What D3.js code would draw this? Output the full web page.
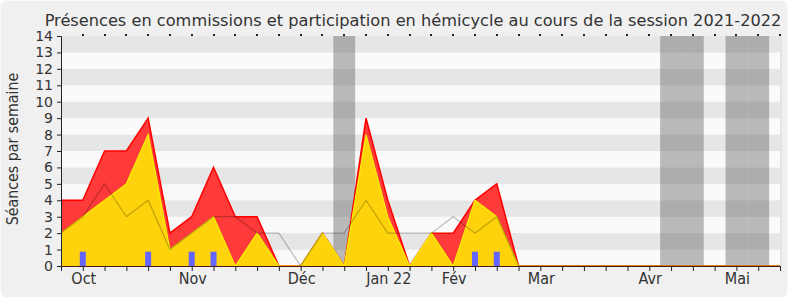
<!DOCTYPE html>
<html>
<head>
<meta charset="utf-8">
<script src="https://cdnjs.cloudflare.com/ajax/libs/d3/7.8.5/d3.min.js"></script>
<title>Présences 2021-2022</title>
<style>
body { margin: 0; background: #ffffff; }
text { font-family: "DejaVu Sans Condensed", "DejaVu Sans", sans-serif; fill: #333333; }
</style>
</head>
<body>
<div id="chart"></div>
<script>
// Weekly values for the session (index 0 = first week shown)
var commissions = [4,4,7,7,9,2,3,6,3,3,0,0,2,0,9,4,0,2,2,4,5,0,0,0,0,0,0,0,0,0,0,0,0,0];
var hemicycle   = [2,3,4,5,8,1,2,3,0,2,0,0,2,0,8,3,0,2,0,4,3,0,0,0,0,0,0,0,0,0,0,0,0,0];
var median      = [2,3,5,3,4,1,2,3,3,2,2,0,2,2,4,2,2,2,3,2,3,0,0,0,0,0,0,0,0,0,0,0,0,0];
var questionWeeks  = [1,4,6,7,19,20];
var questionValues = [0.87,0.87,0.87,0.87,0.87,0.87];
var vacationWeeks  = [13,28,29,31,32];
var monthLabels = ["Oct","Nov","Déc","Jan 22","Fév","Mar","Avr","Mai"];
var monthWeeks  = [1,6,11,15,18,22,27,31];
var yTicks = d3.range(0, 15);

var w = 790, h = 300;
var pLeft = 61, pRight = 780, pTop = 36, pBottom = 266;

var svg = d3.select("#chart").append("svg")
    .attr("width", w)
    .attr("height", h);

// outer frame
svg.append("rect")
    .attr("x", 0.5).attr("y", 0.5)
    .attr("width", w - 3).attr("height", h - 3)
    .attr("rx", 6)
    .attr("fill", "#f0f0f0")
    .attr("stroke", "#fafafa");

var x = d3.scaleLinear().domain([0, commissions.length - 1]).range([pLeft, pRight]);
var y = d3.scaleLinear().domain([0, 14]).range([pBottom, pTop]);

// horizontal stripes
svg.selectAll("rect.stripe")
    .data(d3.range(0, 14))
    .enter()
    .append("rect")
    .attr("class", "stripe")
    .attr("x", pLeft)
    .attr("width", pRight - pLeft)
    .attr("y", function(d) { return y(d + 1); })
    .attr("height", function(d) { return y(d) - y(d + 1); })
    .attr("fill", function(d) { return d % 2 == 1 ? "#e6e6e6" : "#fafafa"; });

svg.append("line")
    .attr("x1", pRight + 1).attr("x2", pRight + 1)
    .attr("y1", pTop).attr("y2", pBottom)
    .attr("stroke", "#d6d6d6");

// holidays
svg.selectAll("rect.vac")
    .data(vacationWeeks)
    .enter()
    .append("rect")
    .attr("class", "vac")
    .attr("x", function(d) { return x(d - 0.5); })
    .attr("width", function(d) { return x(d + 0.5) - x(d - 0.5); })
    .attr("y", pTop)
    .attr("height", pBottom - pTop)
    .attr("fill", "#585858")
    .attr("fill-opacity", 0.4);

var area = function(vals) {
    return d3.area()
        .x(function(d, i) { return x(i); })
        .y0(y(0))
        .y1(function(d) { return y(d); })(vals);
};
var line = function(vals) {
    return d3.line()
        .x(function(d, i) { return x(i); })
        .y(function(d) { return y(d); })(vals);
};

svg.append("path").attr("d", area(commissions)).attr("fill", "#ff3a3a");
svg.append("path").attr("d", line(commissions))
    .attr("fill", "none").attr("stroke", "#ff0000").attr("stroke-width", 1.5);

svg.append("path").attr("d", area(hemicycle)).attr("fill", "#ffd30c");
svg.append("path").attr("d", line(hemicycle))
    .attr("fill", "none").attr("stroke", "#f7f000").attr("stroke-width", 1.2);

svg.append("path").attr("d", line(median))
    .attr("fill", "none").attr("stroke", "#000000")
    .attr("stroke-opacity", 0.25).attr("stroke-width", 1.2);

// questions
svg.selectAll("rect.q")
    .data(questionWeeks)
    .enter()
    .append("rect")
    .attr("class", "q")
    .attr("x", function(d) { return x(d) - 3; })
    .attr("width", 6)
    .attr("y", function(d, i) { return y(questionValues[i]); })
    .attr("height", function(d, i) { return y(0) - y(questionValues[i]); })
    .attr("fill", "#6464ff");

// axes
var yAxis = d3.axisLeft(y).tickValues(yTicks).tickSize(4).tickPadding(4).tickFormat(d3.format("d"));
var gy = svg.append("g").attr("transform", "translate(" + pLeft + ",0)").call(yAxis);
gy.select(".domain").attr("stroke", "#222");
gy.selectAll(".tick line").attr("stroke", "#222");
gy.selectAll("text")
    .style("font-family", "'DejaVu Sans', sans-serif")
    .style("font-size", "14px").attr("fill", "#333");

var xAxis = d3.axisBottom(x).tickValues(d3.range(0, commissions.length)).tickSize(5).tickFormat("");
var gx = svg.append("g").attr("transform", "translate(0," + pBottom + ")").call(xAxis);
gx.select(".domain").attr("stroke", "#4a1a1a").attr("d", "M" + pLeft + ",0.5H" + (pRight + 1));
gx.selectAll(".tick line").attr("stroke", "#222");

// small marks on top edge
svg.selectAll("rect.topmark")
    .data(d3.range(1, commissions.length))
    .enter()
    .append("rect")
    .attr("class", "topmark")
    .attr("x", function(d) { return Math.round(x(d)) - 1; })
    .attr("y", pTop - 2)
    .attr("width", 2).attr("height", 2)
    .attr("fill", "#222");

svg.selectAll("text.month")
    .data(monthLabels)
    .enter()
    .append("text")
    .attr("class", "month")
    .attr("x", function(d, i) { return x(monthWeeks[i]) + 1; })
    .attr("y", 284)
    .attr("text-anchor", "middle")
    .style("font-size", "16px")
    .text(function(d) { return d; });

svg.append("text")
    .attr("x", 413).attr("y", 26)
    .attr("text-anchor", "middle")
    .style("font-family", "'DejaVu Sans', sans-serif")
    .style("font-size", "16.2px")
    .text("Présences en commissions et participation en hémicycle au cours de la session 2021-2022");

svg.append("text")
    .attr("transform", "translate(18,149) rotate(-90)")
    .attr("text-anchor", "middle")
    .style("font-size", "15.8px")
    .text("Séances par semaine");
</script>
</body>
</html>
